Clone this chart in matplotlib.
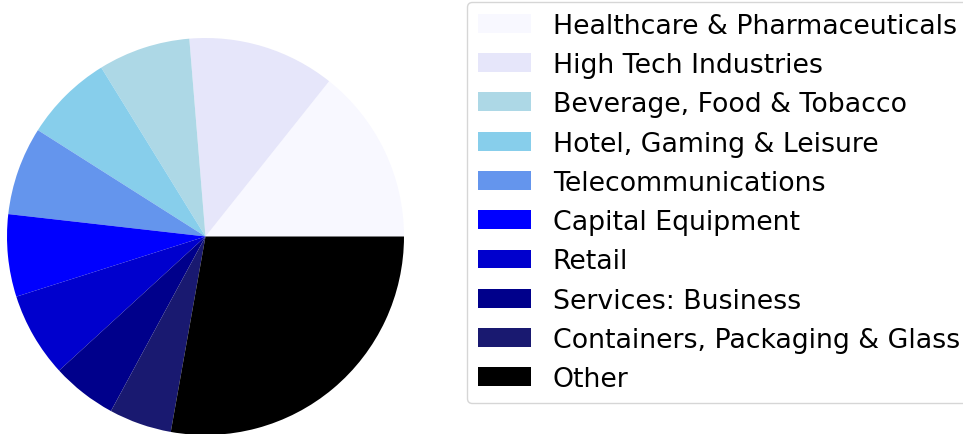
import matplotlib
matplotlib.use("Agg")
import matplotlib.pyplot as plt

labels = ["Healthcare & Pharmaceuticals", "High Tech Industries", "Beverage, Food & Tobacco",
          "Hotel, Gaming & Leisure", "Telecommunications", "Capital Equipment", "Retail",
          "Services: Business", "Containers, Packaging & Glass", "Other"]
values = [14.3, 12.0, 7.5, 7.2, 7.2, 6.7, 6.9, 5.3, 5.1, 27.8]
colors = ["ghostwhite", "lavender", "lightblue", "skyblue", "cornflowerblue", "blue",
          "mediumblue", "darkblue", "midnightblue", "black"]

W, H = 963, 435
fig = plt.figure(figsize=(W / 100, H / 100), dpi=100)
cx, cy, r = 205.5, 237.5, 198.5
ax = fig.add_axes([(cx - r) / W, (H - cy - r) / H, 2 * r / W, 2 * r / H])
wedges, _ = ax.pie(values, colors=colors, startangle=0, counterclock=True)
ax.set_xlim(-1, 1)
ax.set_ylim(-1, 1)
ax.set_aspect("equal")
ax.axis("off")

fig.legend(wedges, labels, loc="upper left", bbox_to_anchor=(467 / W, 1 - 3 / H),
           borderaxespad=0, fontsize=19.3, labelspacing=0.495, frameon=True)
fig.savefig("out.png", dpi=100)
